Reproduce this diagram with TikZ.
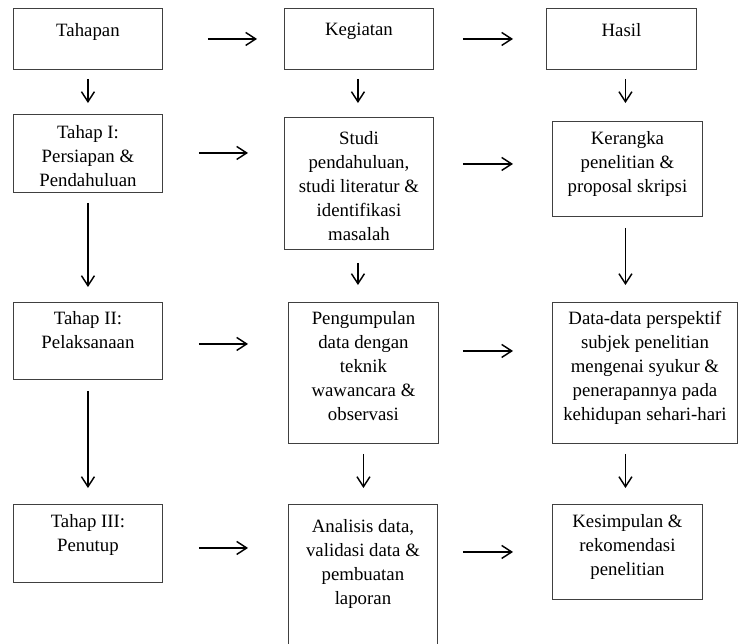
\documentclass[tikz,border=0pt]{standalone}
\usepackage{fontspec}
\setmainfont{Liberation Serif}
\usetikzlibrary{arrows.meta, positioning}

\tikzset{
  box/.style={draw=black!75, line width=0.9pt, anchor=north west, inner sep=0pt},
  txt/.style={anchor=north, align=center, inner sep=0pt, font=\fontsize{18.8}{24}\selectfont},
  arr/.style={-{Straight Barb[length=10pt, width=13pt]}, line width=1.45pt}
}

\begin{document}
\begin{tikzpicture}[x=1pt, y=-1pt]
\useasboundingbox (0,0) rectangle (738,643);
% kolom tahapan
\node[box, minimum width=149pt, minimum height=61pt] (tahapan) at (13,8) {};
\node[box, minimum width=149pt, minimum height=78pt] (tahap1) at (13,114) {};
\node[box, minimum width=149pt, minimum height=77pt] (tahap2) at (13,302) {};
\node[box, minimum width=149pt, minimum height=78pt] (tahap3) at (13,504) {};
% kolom kegiatan
\node[box, minimum width=149pt, minimum height=61pt] (kegiatan) at (284,8) {};
\node[box, minimum width=149pt, minimum height=132pt] (studi) at (284,117) {};
\node[box, minimum width=150pt, minimum height=141pt] (kumpul) at (288,302) {};
\node[box, minimum width=149pt, minimum height=145pt] (analisis) at (288,504) {};
% kolom hasil
\node[box, minimum width=150pt, minimum height=61pt] (hasil) at (546,8) {};
\node[box, minimum width=150pt, minimum height=95pt] (kerangka) at (552,121) {};
\node[box, minimum width=185pt, minimum height=141pt] (datadata) at (552,302) {};
\node[box, minimum width=150pt, minimum height=95pt] (kesimpulan) at (552,504) {};

% teks
\node[txt, below=15pt of tahapan.north] {Tahapan};
\node[txt, below=11pt of tahap1.north] {Tahap I:\\Persiapan \&\\Pendahuluan};
\node[txt, below=9pt of tahap2.north] {Tahap II:\\Pelaksanaan};
\node[txt, below=10pt of tahap3.north] {Tahap III:\\Penutup};
\node[txt, below=15pt of kegiatan.north] {Kegiatan};
\node[txt, below=14pt of studi.north] {Studi\\pendahuluan,\\studi literatur \&\\identifikasi\\masalah};
\node[txt, below=9pt of kumpul.north] {Pengumpulan\\data dengan\\teknik\\wawancara \&\\observasi};
\node[txt, below=15pt of analisis.north] {Analisis data,\\validasi data \&\\pembuatan\\laporan};
\node[txt, below=15pt of hasil.north] {Hasil};
\node[txt, below=10pt of kerangka.north] {Kerangka\\penelitian \&\\proposal skripsi};
\node[txt, below=9pt of datadata.north] {Data-data perspektif\\subjek penelitian\\mengenai syukur \&\\penerapannya pada\\kehidupan sehari-hari};
\node[txt, below=10pt of kesimpulan.north] {Kesimpulan \&\\rekomendasi\\penelitian};

% panah mendatar
\draw[arr] ([xshift=45pt]tahapan.east) -- ([xshift=-27pt]tahapan.east -| kegiatan.west);
\draw[arr] ([xshift=29pt]kegiatan.east) -- ([xshift=-33pt]kegiatan.east -| hasil.west);
\draw[arr] ([xshift=36pt,yshift=0.5pt]tahap1.east) -- ([xshift=-36pt,yshift=0.5pt]tahap1.east -| studi.west);
\draw[arr] ([xshift=29pt,yshift=5pt]studi.east |- kerangka.west) -- ([xshift=-39pt,yshift=5pt]kerangka.west);
\draw[arr] ([xshift=36pt,yshift=-3pt]tahap2.east) -- ([xshift=-40pt,yshift=-3pt]tahap2.east -| kumpul.west);
\draw[arr] ([xshift=24pt,yshift=22pt]kumpul.east) -- ([xshift=-39pt,yshift=22pt]datadata.west);
\draw[arr] ([xshift=36pt,yshift=-4.5pt]tahap3.east) -- ([xshift=-40pt,yshift=-4.5pt]tahap3.east -| analisis.west);
\draw[arr] ([xshift=25pt]analisis.east |- kesimpulan.west) -- ([xshift=-39pt]kesimpulan.west);

% panah menurun
\draw[arr] ([yshift=-9pt]tahapan.south) -- ([yshift=11pt]tahapan.south |- tahap1.north);
\draw[arr] ([yshift=-10pt]tahap1.south) -- ([yshift=15pt]tahap1.south |- tahap2.north);
\draw[arr] ([yshift=-11pt]tahap2.south) -- ([yshift=16pt]tahap2.south |- tahap3.north);
\draw[arr] ([xshift=-1pt,yshift=-9pt]kegiatan.south) -- ([xshift=-1pt,yshift=14pt]kegiatan.south |- studi.north);
\draw[arr] ([xshift=-1pt,yshift=-13pt]studi.south) -- ([xshift=-1pt,yshift=17pt]studi.south |- kumpul.north);
\draw[arr] ([yshift=-10pt]kumpul.south) -- ([yshift=16pt]kumpul.south |- analisis.north);
\draw[arr] ([xshift=4pt,yshift=-9pt]hasil.south) -- ([xshift=4pt,yshift=18pt]hasil.south |- kerangka.north);
\draw[arr] ([xshift=-2pt,yshift=-11pt]kerangka.south) -- ([xshift=-2pt,yshift=17pt]kerangka.south |- datadata.north);
\draw[arr] ([xshift=-2pt,yshift=-10pt]datadata.south -| kesimpulan.north) -- ([xshift=-2pt,yshift=16pt]kesimpulan.north);
\end{tikzpicture}
\end{document}
